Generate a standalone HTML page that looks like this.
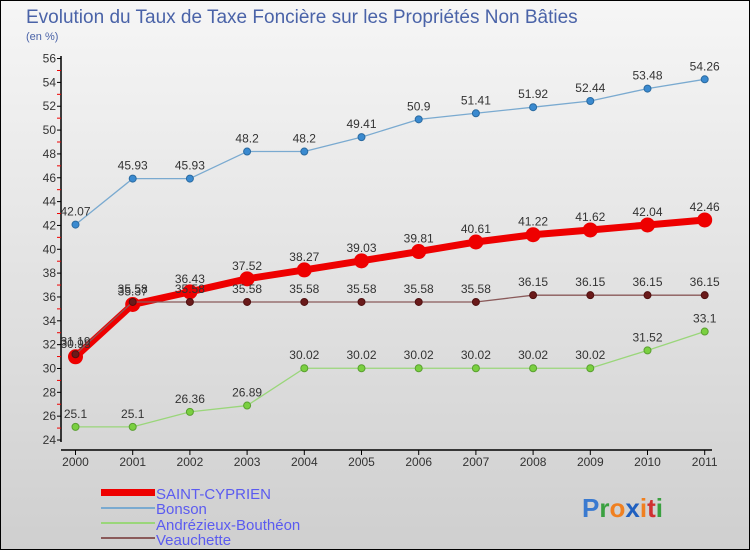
<!DOCTYPE html>
<html><head><meta charset="utf-8"><style>
body{margin:0;width:750px;height:550px;overflow:hidden;font-family:"Liberation Sans",sans-serif}
svg text{font-family:"Liberation Sans",sans-serif}
</style></head><body>
<svg id="chart" width="750" height="550">
<defs><linearGradient id="bg" x1="0" y1="0" x2="0" y2="1"><stop offset="0" stop-color="#f6f6f6"/><stop offset="1" stop-color="#cfcfcf"/></linearGradient></defs>
<rect x="0.5" y="0.5" width="749" height="549" fill="url(#bg)" stroke="#000"/>
<text x="26" y="23" font-size="19" fill="#4a63a8">Evolution du Taux de Taxe Foncière sur les Propriétés Non Bâties</text>
<text x="26" y="40" font-size="11" fill="#4a63a8">(en %)</text>
<g id="axes"></g><g id="series"></g>
<g>
<rect x="101" y="489" width="54" height="7" fill="#e00"/>
<text x="156" y="499" font-size="15" fill="#5b5bf0">SAINT-CYPRIEN</text>
<rect x="101" y="507" width="54" height="2" fill="#7aaad0"/>
<text x="156" y="514" font-size="15" fill="#5b5bf0">Bonson</text>
<rect x="101" y="522" width="54" height="2" fill="#9ad67a"/>
<text x="156" y="530" font-size="15" fill="#5b5bf0">Andrézieux-Bouthéon</text>
<rect x="101" y="537" width="54" height="2" fill="#8a5a5a"/>
<text x="156" y="545" font-size="15" fill="#5b5bf0">Veauchette</text>
</g>
<text x="582" y="517" font-size="26" font-weight="bold"><tspan fill="#3a7ad0">P</tspan><tspan fill="#3aa040">r</tspan><tspan fill="#f08020">o</tspan><tspan fill="#2060c0">x</tspan><tspan fill="#f08020">i</tspan><tspan fill="#d03030">t</tspan><tspan fill="#3aa040">i</tspan></text>
</svg>
<script>
const years=[2000,2001,2002,2003,2004,2005,2006,2007,2008,2009,2010,2011];
const yTicks=[24,26,28,30,32,34,36,38,40,42,44,46,48,50,52,54,56];
const bonson=[42.07,45.93,45.93,48.2,48.2,49.41,50.9,51.41,51.92,52.44,53.48,54.26];
const andrez=[25.1,25.1,26.36,26.89,30.02,30.02,30.02,30.02,30.02,30.02,31.52,33.1];
const cyprien=[30.98,35.37,36.43,37.52,38.27,39.03,39.81,40.61,41.22,41.62,42.04,42.46];
const veauch=[31.19,35.58,35.58,35.58,35.58,35.58,35.58,35.58,36.15,36.15,36.15,36.15];
const NS='http://www.w3.org/2000/svg';
const X=i=>75.5+i*57.2, Y=v=>440-(v-24)*11.92;
function mk(t,a,p){const e=document.createElementNS(NS,t);for(const k in a)e.setAttribute(k,a[k]);p.appendChild(e);return e;}
const ax=document.getElementById('axes');
const yl=mk('line',{x1:61,y1:56,x2:61,y2:442,stroke:'#000','stroke-width':1.5},ax);


const xl=mk('line',{x1:61,y1:450,x2:712,y2:450,stroke:'#000','stroke-width':1.5},ax);


yTicks.forEach(v=>{
  mk('line',{x1:57,y1:Y(v),x2:61,y2:Y(v),stroke:'#000'},ax);
  if(v<56)mk('line',{x1:57,y1:Y(v+1),x2:61,y2:Y(v+1),stroke:'#e00'},ax);
  const t=mk('text',{x:56,y:Y(v)+4,'font-size':12,'text-anchor':'end',fill:'#333'},ax);t.textContent=v;
  
  
});
years.forEach((yr,i)=>{
  mk('line',{x1:X(i),y1:450,x2:X(i),y2:455,stroke:'#000'},ax);
  const t=mk('text',{x:X(i),y:466,'font-size':12,'text-anchor':'middle',fill:'#333'},ax);t.textContent=yr;
  
  
});
const sg=document.getElementById('series');
function series(data,name,line,lw,fill,r,stroke){
  const g=mk('g',{},sg);
  
  
  mk('polyline',{points:data.map((v,i)=>X(i)+','+Y(v)).join(' '),fill:'none',stroke:line,'stroke-width':lw,'stroke-linejoin':'round'},g);
  data.forEach((v,i)=>{
    const c=mk('circle',{cx:X(i),cy:Y(v),r:r,fill:fill,stroke:stroke,'stroke-width':1},g);
    
    
    const t=mk('text',{x:X(i),y:Y(v)-9,'font-size':12,'text-anchor':'middle',fill:'#333'},g);t.textContent=v;
    
    
  });
}
series(bonson,'bonson','#7aaad0',1.3,'#3a8ad0',3.5,'#2a6aa0');
series(andrez,'andrezieux','#9ad67a',1.3,'#7ad040',3.5,'#5aa030');
series(cyprien,'saint-cyprien','#e00',7,'#e00',7,'#e00');
series(veauch,'veauchette','#8a5a5a',1.3,'#6a1a1a',3.5,'#501010');
</script>
</body></html>
